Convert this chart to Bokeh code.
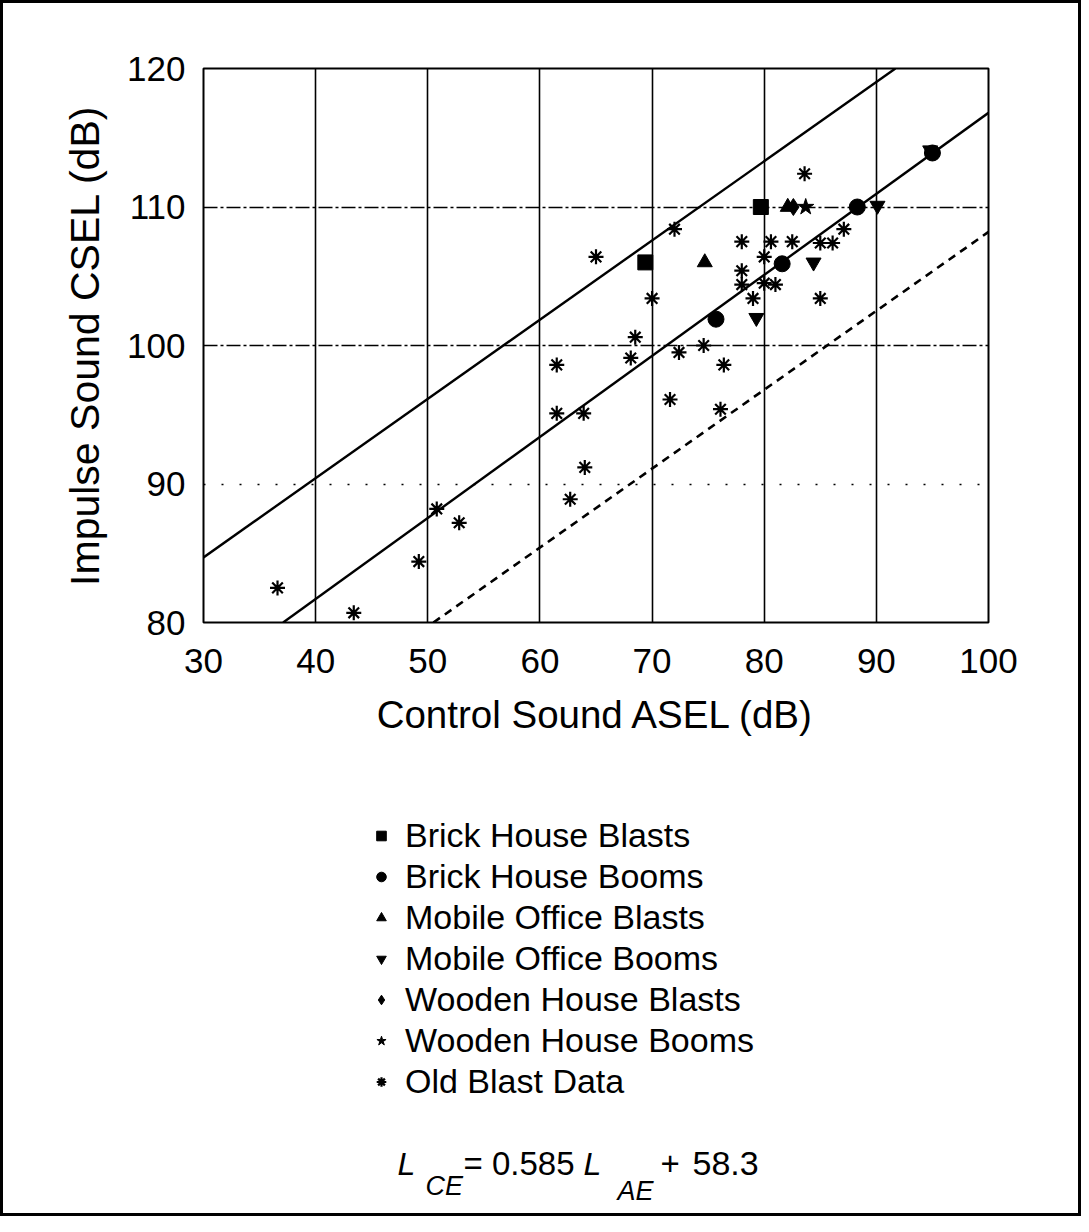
from bokeh.plotting import figure
from bokeh.layouts import column
from bokeh.models import Legend, LegendItem, Label, FixedTicker, Grid
from bokeh.embed import file_html
from bokeh.resources import INLINE

# ---- data ----
x_ticks = [30, 40, 50, 60, 70, 80, 90, 100]
y_ticks = [80, 90, 100, 110, 120]

brick_blasts_x = [69.4, 79.7]
brick_blasts_y = [106.0, 110.0]

brick_booms_x = [75.7, 81.6, 88.3, 95.0]
brick_booms_y = [101.9, 105.9, 110.0, 113.9]

mobile_blasts_x = [74.7, 82.1]
mobile_blasts_y = [106.0, 110.0]

mobile_booms_x = [79.3, 84.4, 90.1, 94.8]
mobile_booms_y = [102.0, 106.0, 110.1, 114.1]

wooden_blasts_x = [82.6]
wooden_blasts_y = [110.0]

wooden_booms_x = [83.7]
wooden_booms_y = [110.0]

old_x = [36.6, 43.4, 49.2, 50.8, 52.8, 61.5, 61.5, 63.9, 64.0, 62.7, 65.0, 68.5,
         68.1, 70.0, 71.6, 72.0, 72.4, 74.6, 76.1, 76.4, 78.0, 78.0, 78.0, 79.0,
         80.0, 80.0, 80.6, 81.0, 82.5, 83.6, 85.0, 85.0, 86.1, 87.1]
old_y = [82.5, 80.7, 84.4, 88.2, 87.2, 98.6, 95.1, 95.1, 91.2, 88.9, 106.4, 100.6,
         99.1, 103.4, 96.1, 108.4, 99.5, 100.0, 95.4, 98.6, 107.5, 105.4, 104.4, 103.4,
         106.4, 104.5, 107.5, 104.4, 107.5, 112.4, 107.4, 103.4, 107.4, 108.4]

upper_x = [30.0, 91.7]
upper_y = [84.7, 120.0]
fit_x = [37.1, 100.0]
fit_y = [80.0, 116.8]
lower_x = [50.5, 100.0]
lower_y = [80.0, 108.2]

labels = ["Brick House Blasts", "Brick House Booms", "Mobile Office Blasts",
          "Mobile Office Booms", "Wooden House Blasts", "Wooden House Booms",
          "Old Blast Data"]

FONT = "Liberation Sans"

BOT_H = 461
W = 1075

p = figure(frame_width=785, frame_height=554, x_range=(30, 100), y_range=(80, 120),
           output_backend="svg", toolbar_location=None,
           min_border_left=200, min_border_right=W - 200 - 785, min_border_top=65,
           min_border_bottom=130)

p.outline_line_color = "black"
p.outline_line_width = 2

p.xaxis.ticker = FixedTicker(ticks=x_ticks)
p.yaxis.ticker = FixedTicker(ticks=y_ticks)
for ax in (p.xaxis[0], p.yaxis[0]):
    ax.axis_line_color = None
    ax.major_tick_line_color = None
    ax.minor_tick_line_color = None
    ax.major_label_text_font = FONT
    ax.major_label_text_font_size = "35px"
    ax.major_label_text_color = "black"
    ax.axis_label_text_font = FONT
    ax.axis_label_text_font_style = "normal"
    ax.axis_label_text_color = "black"
p.xaxis.axis_label_text_font_size = "38.5px"
p.yaxis.axis_label_text_font_size = "41px"
p.xaxis.axis_label = "Control Sound ASEL (dB)"
p.yaxis.axis_label = "Impulse Sound CSEL (dB)"
p.xaxis.major_label_standoff = 20
p.yaxis.major_label_standoff = 12
p.xaxis.axis_label_standoff = 17
p.yaxis.axis_label_standoff = 16

p.xgrid.ticker = FixedTicker(ticks=[40, 50, 60, 70, 80, 90])
p.xgrid.grid_line_color = "black"
p.xgrid.grid_line_width = 1.6
p.ygrid.ticker = FixedTicker(ticks=[100, 110])
p.ygrid.grid_line_color = "black"
p.ygrid.grid_line_width = 1.4
p.ygrid.grid_line_dash = "14 3 3 3"
g90 = Grid(dimension=1, ticker=FixedTicker(ticks=[90]), grid_line_color="black",
           grid_line_width=1.3, grid_line_dash="2 16")
p.add_layout(g90)

# fit lines
p.line(upper_x, upper_y, line_color="black", line_width=2.4)
p.line(fit_x, fit_y, line_color="black", line_width=2.4)
p.line(lower_x, lower_y, line_color="black", line_width=2.6, line_dash="8 6")

styles = [
    dict(marker="square", size=15, color="black"),
    dict(marker="circle", size=16, color="black"),
    dict(marker="triangle", size=15, color="black"),
    dict(marker="inverted_triangle", size=15, color="black"),
    dict(marker="diamond", size=17, color="black"),
    dict(marker="star", size=17, color="black"),
    dict(marker="asterisk", size=15, line_color="black", line_width=2.2),
]
series = [(brick_blasts_x, brick_blasts_y), (brick_booms_x, brick_booms_y),
          (mobile_blasts_x, mobile_blasts_y), (mobile_booms_x, mobile_booms_y),
          (wooden_blasts_x, wooden_blasts_y), (wooden_booms_x, wooden_booms_y),
          (old_x, old_y)]
for (xs, ys), st in zip(series, styles):
    p.scatter(xs, ys, **st)

# ---- lower panel: legend and equation ----
p2 = figure(frame_width=785, frame_height=BOT_H, x_range=(0, 1), y_range=(0, 1),
            x_axis_type=None, y_axis_type=None, output_backend="svg",
            toolbar_location=None, min_border_left=200, min_border_right=W - 200 - 785,
            min_border_top=0, min_border_bottom=0)
p2.outline_line_color = None
p2.xgrid.visible = False
p2.ygrid.visible = False

# legend proxies: same series, lying outside this panel's (0, 1) ranges, so only the legend shows them
proxies = [p2.scatter(xs, ys, **st) for (xs, ys), st in zip(series, styles)]
legend = Legend(items=[LegendItem(label=l, renderers=[r]) for l, r in zip(labels, proxies)],
                location=(166, 111), padding=0, margin=0, border_line_color=None,
                background_fill_alpha=0, label_text_font=FONT, label_text_font_size="34px",
                label_text_color="black", glyph_width=24, glyph_height=41, label_height=41,
                spacing=0, label_standoff=12)
p2.add_layout(legend)

eq_parts = [
    ("L", 194, 50, "italic", "32px"),
    ("CE", 222, 28, "italic", "27px"),
    ("= 0.585", 260, 50, "normal", "33px"),
    ("L", 380, 50, "italic", "32px"),
    ("AE", 414, 23, "italic", "27px"),
    ("+", 457, 50, "normal", "33px"),
    ("58.3", 489, 50, "normal", "34px"),
]
for t, xx, yy, st, fs in eq_parts:
    p2.add_layout(Label(x=xx, y=yy, x_units="screen", y_units="screen", text=t,
                        text_font=FONT, text_font_style=st, text_font_size=fs,
                        text_color="black", text_baseline="alphabetic"))

layout = column(p, p2, spacing=0, styles={"border": "3px solid black"})

open("out.html", "w").write(file_html(layout, INLINE))
